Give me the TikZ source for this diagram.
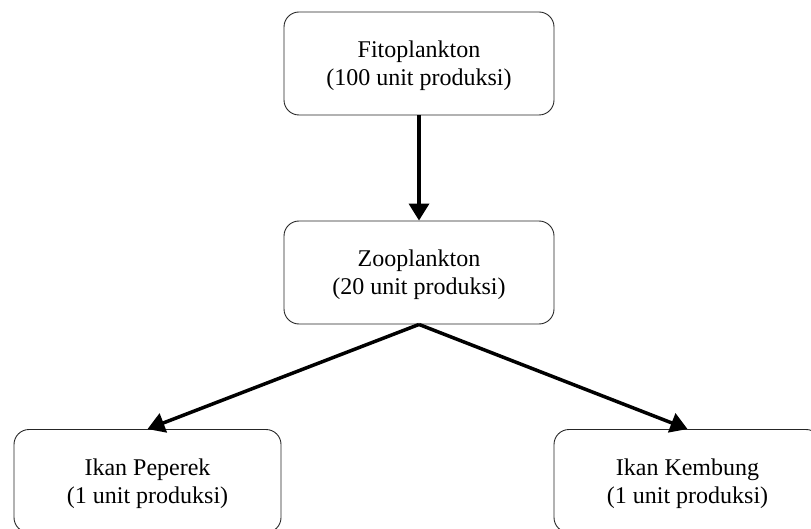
\documentclass[tikz,border=0pt]{standalone}
\usepackage{fontspec}
\setmainfont{Liberation Serif}
\usetikzlibrary{arrows.meta}
\newcommand{\topstrut}{\rule{0pt}{22pt}}
\begin{document}
\begin{tikzpicture}[x=1pt,y=-1pt,
  box/.style={draw=black!85, line width=0.9pt, rounded corners=15pt, rectangle,
    align=center, font=\fontsize{24}{28}\selectfont, inner sep=0pt},
  flow/.style={line width=3.5pt, -{Triangle[length=17pt,width=20pt]}}]
\useasboundingbox (0,0) rectangle (811,529);
\node[box, minimum width=270pt, minimum height=103pt] (fito) at (419,63.5) {\topstrut Fitoplankton\\(100 unit produksi)};
\node[box, minimum width=270pt, minimum height=103pt] (zoo) at (419,272.5) {\topstrut Zooplankton\\(20 unit produksi)};
\node[box, minimum width=267pt, minimum height=103pt] (peperek) at (147.5,481) {\topstrut Ikan Peperek\\(1 unit produksi)};
\node[box, minimum width=267pt, minimum height=103pt] (kembung) at (687.5,481) {\topstrut Ikan Kembung\\(1 unit produksi)};
\draw[flow] (fito.south) -- (zoo.north);
\draw[flow] (zoo.south) -- (peperek.north);
\draw[flow] (zoo.south) -- (kembung.north);
\end{tikzpicture}
\end{document}
